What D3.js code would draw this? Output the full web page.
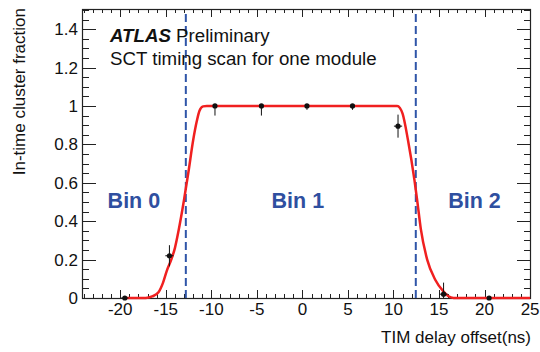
<!DOCTYPE html>
<html>
<head>
<meta charset="utf-8">
<script src="https://cdn.jsdelivr.net/npm/d3@7"></script>
<style>
  body { margin: 0; background: #fff; }
  svg { font-family: "Liberation Sans", Arial, sans-serif; }
</style>
</head>
<body>
<div class="chart"></div>
<script>
// measured points
const pointX = [-19.5, -14.6, -9.6, -4.5, 0.5, 5.5, 10.5, 15.5, 20.5]
const pointY = [0, 0.22, 1.0, 1.0, 1.0, 1.0, 0.895, 0.02, 0]
const errLow = [0, 0.055, 0.05, 0.05, 0.02, 0.02, 0.06, 0.02, 0]
const errHigh = [0, 0.055, 0, 0, 0, 0, 0.06, 0.06, 0]
const errX = [0.4, 0.45, 0, 0, 0, 0, 0.45, 0.45, 0]

// fit curve
const fitX = [-19.5, -17.2, -16.5, -15.8, -15.3, -14.9, -14.4, -14.0, -13.6, -13.0, -12.5, -12.0, -11.6, -11.3, -10.9, -10.5,
  10.4, 10.7, 11.0, 11.6, 12.3, 12.6, 13.0, 13.7, 14.6, 15.5, 16.0, 16.6, 25]
const fitY = [0, 0, 0.008, 0.03, 0.08, 0.14, 0.2, 0.26, 0.35, 0.51, 0.66, 0.82, 0.92, 0.975, 0.998, 1.0,
  1.0, 0.99, 0.96, 0.82, 0.615, 0.51, 0.36, 0.2, 0.094, 0.033, 0.01, 0, 0]

const binEdges = [-12.8, 12.45]
const binNames = ["Bin 0", "Bin 1", "Bin 2"]
const binLabelX = [-18.5, -0.5, 18.9]

const xTicks = [-20, -15, -10, -5, 0, 5, 10, 15, 20, 25]
const yTicks = [0, 0.2, 0.4, 0.6, 0.8, 1, 1.2, 1.4]
const yTickLabels = ["0", "0.2", "0.4", "0.6", "0.8", "1", "1.2", "1.4"]

const width = 540, height = 352
const padding = {left: 82, right: 9, top: 9, bottom: 54}

const svg = d3.select(".chart").append("svg").attr("width", width).attr("height", height)

const xScale = d3.scaleLinear().domain([-24.2, 25.1]).range([padding.left, width - padding.right])
const yScale = d3.scaleLinear().domain([0, 1.505]).range([height - padding.bottom, padding.top])
const x0 = xScale.range()[0], x1 = xScale.range()[1]
const y0 = yScale.range()[0], y1 = yScale.range()[1]

const xMinor = d3.range(-24, 26, 1)
const yMinor = d3.range(0, 1.5001, 0.05)

// ticks on all four sides, pointing inward
const tickG = svg.append("g").attr("stroke", "#222").attr("stroke-width", 1)
xMinor.forEach(v => {
  let len = (v % 5 === 0) ? 8 : 4
  let px = Math.round(xScale(v)) + 0.5
  tickG.append("line").attr("x1", px).attr("x2", px).attr("y1", y0).attr("y2", y0 - len)
  tickG.append("line").attr("x1", px).attr("x2", px).attr("y1", y1).attr("y2", y1 + len)
})
yMinor.forEach(v => {
  let major = Math.abs(Math.round(v * 10) / 10 - v) < 1e-6 && Math.round(v * 10) % 2 === 0
  let len = major ? 14 : 7
  let py = Math.round(yScale(v)) + 0.5
  tickG.append("line").attr("x1", x0).attr("x2", x0 + len).attr("y1", py).attr("y2", py)
  tickG.append("line").attr("x1", x1).attr("x2", x1 - len).attr("y1", py).attr("y2", py)
})

svg.append("rect")
  .attr("x", x0 + 0.5).attr("y", y1 + 0.5)
  .attr("width", x1 - x0 - 1).attr("height", y0 - y1)
  .attr("fill", "none").attr("stroke", "#222").attr("stroke-width", 1.2)

svg.append("g").selectAll("text").data(xTicks).enter().append("text")
  .attr("x", d => xScale(d))
  .attr("y", y0 + 17)
  .attr("text-anchor", "middle")
  .attr("font-size", 17)
  .attr("fill", "#111")
  .text(d => d < 0 ? "-" + Math.abs(d) : d)

svg.append("g").selectAll("text").data(yTicks).enter().append("text")
  .attr("x", x0 - 4)
  .attr("y", d => yScale(d) + 6)
  .attr("text-anchor", "end")
  .attr("font-size", 17)
  .attr("fill", "#111")
  .text((d, i) => yTickLabels[i])

// axis titles
svg.append("text")
  .attr("x", x1).attr("y", 343)
  .attr("text-anchor", "end").attr("font-size", 17).attr("fill", "#111")
  .text("TIM delay offset(ns)")
svg.append("text")
  .attr("transform", "translate(25," + 8 + ") rotate(-90)")
  .attr("text-anchor", "end").attr("font-size", 17).attr("fill", "#111")
  .text("In-time cluster fraction")

// bin boundaries
svg.append("g").selectAll("line").data(binEdges).enter().append("line")
  .attr("x1", d => xScale(d)).attr("x2", d => xScale(d))
  .attr("y1", y0).attr("y2", y1 + 1)
  .attr("stroke", "#2f55a8").attr("stroke-width", 2)
  .attr("stroke-dasharray", "8,4")

svg.append("g").selectAll("text").data(binNames).enter().append("text")
  .attr("x", (d, i) => xScale(binLabelX[i]))
  .attr("y", 207.5)
  .attr("text-anchor", "middle")
  .attr("font-size", 21.5).attr("font-weight", "bold")
  .attr("fill", "#2f4fa0")
  .text(d => d)

// fit
const lineFunction = d3.line()
  .x((d, i) => xScale(d))
  .y((d, i) => yScale(fitY[i]))
  .curve(d3.curveMonotoneX)
svg.append("path")
  .attr("d", lineFunction(fitX))
  .attr("fill", "none").attr("stroke", "#f02020").attr("stroke-width", 2.5)

// data points with errors
const pts = svg.append("g").attr("stroke", "#111").attr("stroke-width", 1)
pointX.forEach((v, i) => {
  let px = xScale(v), py = yScale(pointY[i])
  if (errLow[i] + errHigh[i] > 0) {
    pts.append("line").attr("x1", px).attr("x2", px)
      .attr("y1", yScale(pointY[i] - errLow[i])).attr("y2", yScale(pointY[i] + errHigh[i]))
  }
  if (errX[i] > 0) {
    pts.append("line").attr("y1", py).attr("y2", py)
      .attr("x1", xScale(v - errX[i])).attr("x2", xScale(v + errX[i]))
  }
  pts.append("circle").attr("cx", px).attr("cy", py).attr("r", 2.6).attr("fill", "#111").attr("stroke", "none")
})

// ATLAS label
const lab = svg.append("text").attr("x", 110).attr("y", 42).attr("font-size", 18.7).attr("fill", "#111")
lab.append("tspan").attr("font-weight", "bold").attr("font-style", "italic").text("ATLAS")
lab.append("tspan").text(" Preliminary")
svg.append("text").attr("x", 110).attr("y", 65).attr("font-size", 18.7).attr("fill", "#111")
  .text("SCT timing scan for one module")
</script>
</body>
</html>
